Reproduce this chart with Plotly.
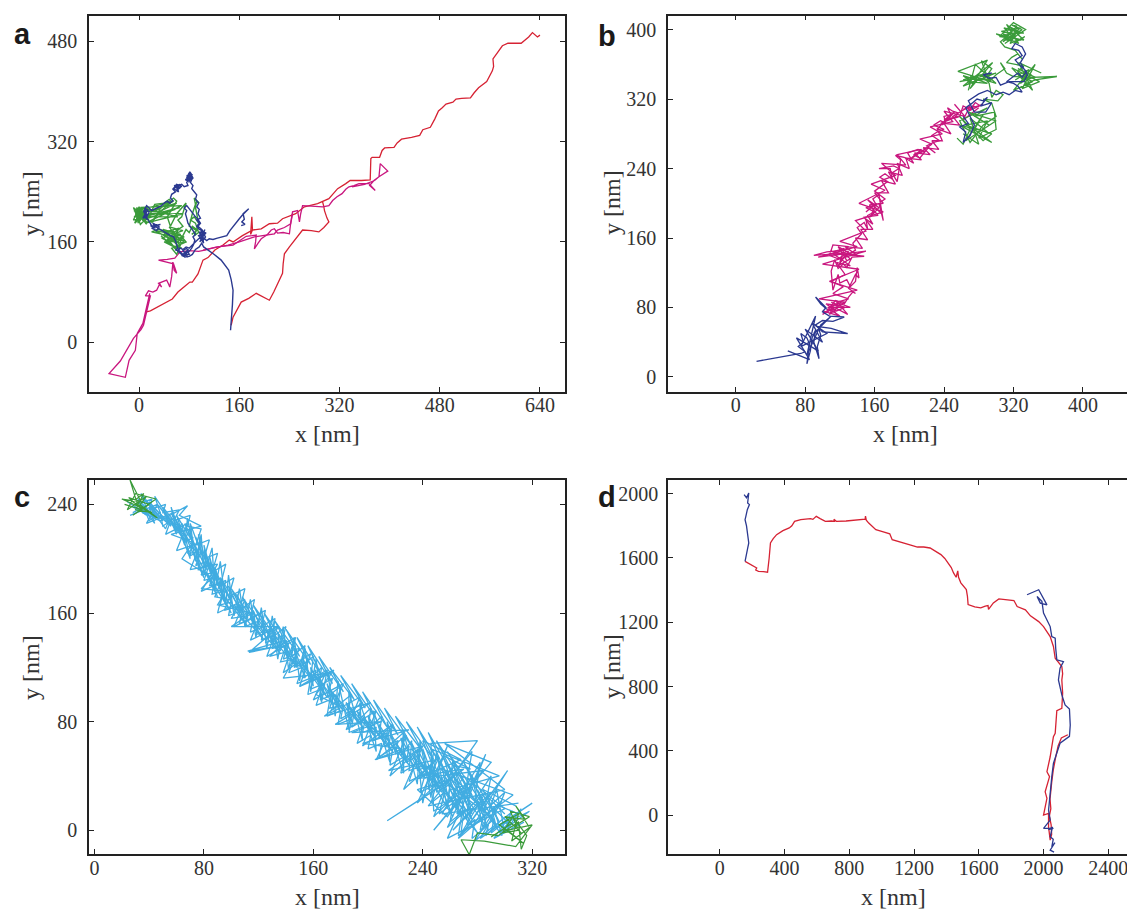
import plotly.graph_objects as go

# ---------------- data (nm) ----------------
# Panel a
a_red_1 = [(640,490),(636,487),(628,494),(622,487),(610,477),(589,477),(580,473),(572,462),(565,452),(566,440),(564,433),(555,416),(548,410),(542,406),(535,398),(529,390),(515,389),(506,388),(501,383),(490,380),(484,374),(478,369),(472,356),(465,343),(453,339),(448,330),(435,327),(419,324),(412,318),(407,311),(392,310),(388,306),(384,295),(372,295),(370,293),(369,259),(355,258),(337,258),(330,253),(317,245),(303,229),(293,224),(285,221),(264,216),(256,210),(250,205),(229,197),(221,190),(208,189),(195,181),(181,179),(178,172),(180,200),(181,179),(165,170),(150,160),(144,163),(134,155),(121,147),(110,135),(102,131),(94,109),(85,96),(81,96),(74,90),(62,80),(53,69),(40,62),(24,53),(18,50),(10,48)]
a_red_2 = [(147,27),(150,40),(163,64),(175,70),(187,78),(198,72),(208,67),(215,80),(222,95),(229,110),(230,125),(232,141),(240,152),(250,165),(261,179),(275,178),(287,176),(295,183),(303,192),(300,198),(297,205),(296,210),(295,216),(293,224)]
a_mag_1 = [(17,78),(13,62),(9,46),(6,30),(-3,14),(-4,0),(-6,-13),(-16,-29),(-22,-56),(-48,-50),(-30,-30),(-9,6),(3,20),(7,27),(10,40),(12,48),(15,60),(18,74),(10,74),(15,82),(22,80),(28,83),(33,93),(36,88),(31,94),(44,99),(47,93),(49,88),(52,105),(54,128),(56,115),(60,110),(55,125),(31,131),(45,132),(57,134),(62,140),(65,144),(80,146),(95,145),(105,147),(120,151),(142,155),(160,160),(184,168),(200,170),(216,173),(221,179),(232,183),(242,189),(245,205),(243,195)]
a_mag_2 = [(102,147),(125,152),(150,155),(160,162),(171,169),(180,170),(187,171),(186,160),(184,149),(190,158),(195,165),(205,172),(211,179),(216,181),(219,176),(221,174),(230,175),(240,173),(242,190),(245,208),(253,210),(256,192),(258,205),(261,218),(275,217),(293,216),(303,218),(309,226),(316,232),(324,237),(330,244),(335,248),(343,250),(351,253),(360,253),(367,253),(377,242),(368,250),(375,258),(383,264),(397,273),(385,285),(383,264),(376,258),(360,252),(340,248)]
a_blue = [(146,19),(147,30),(148,40),(149,60),(150,83),(147,100),(143,115),(137,124),(131,131),(120,140),(110,147),(103,152),(100,158),(96,152),(90,148),(85,140),(80,137),(73,136),(68,140),(62,145),(65,150),(70,148),(75,152),(80,150),(85,155),(90,160),(95,165),(100,168),(98,175),(102,178),(96,180),(92,185),(96,190),(92,195),(98,198),(94,205),(96,212),(92,216),(95,222),(90,228),(92,235),(88,240),(84,245),(86,250),(82,255),(85,262),(81,266),(83,270),(79,268),(80,260),(76,255),(78,250),(72,248),(68,252),(62,250),(57,248),(54,244),(58,240),(52,236),(50,230),(54,226),(49,222),(45,225),(40,222),(36,218),(30,215),(26,212),(20,210),(16,214),(12,218),(10,214),(8,208),(12,204),(8,200),(14,196),(17,190),(20,186),(25,185),(30,182),(35,178),(40,175),(46,172),(50,170),(55,168),(58,162),(60,155),(62,150),(58,147),(64,146),(68,142),(72,138),(76,142),(80,145),(84,150),(87,156),(89,163),(86,168),(90,172),(86,178),(82,182),(78,190),(76,198),(74,205),(76,210),(72,214),(76,218),(80,212),(84,208),(90,200),(94,196),(98,190),(94,185),(100,180),(104,175),(98,170),(104,165),(108,162),(112,165),(118,164),(125,166),(132,168),(140,170),(145,178),(150,185),(155,192),(160,197),(165,203),(170,208),(175,213),(171,210),(166,205),(168,196),(164,192),(169,188),(163,186)]
a_blue_blob_1 = [(78,262),(82,258),(76,266),(84,264),(80,270),(77,258),(85,268),(79,255),(83,261),(76,262),(81,272),(86,262),(80,257),(74,259),(82,266)]
a_blue_blob_2 = [(58,246),(64,250),(60,242),(66,247),(56,250),(62,244),(68,249),(59,252),(63,240),(55,245),(65,252),(61,247)]
a_blue_blob_3 = [(98,165),(104,172),(96,176),(102,162),(106,168),(99,180),(103,158),(95,170),(107,175),(100,166),(97,160),(105,180)]
a_blue_blob_4 = [(72,140),(78,136),(70,146),(76,150),(80,140),(68,138),(74,144),(79,148),(71,136)]
a_blue_blob_5 = [(8,205),(14,212),(6,198),(12,200),(16,208),(9,214),(13,196),(7,210)]
a_blue_blob_6 = [(18,186),(26,182),(22,190),(32,184),(28,178),(20,182),(34,188),(24,186)]
a_green = [(-5,205),(5,214),(-8,210),(10,198),(-6,200),(15,212),(0,192),(-9,215),(12,188),(2,208),(-4,196),(18,205),(25,220),(40,222),(48,228),(52,224),(30,205),(20,190),(35,215),(55,230),(60,225),(45,200),(50,185),(60,205),(75,222),(68,200),(62,195),(70,185),(55,175),(30,180),(20,176),(40,172),(55,168),(70,165),(40,160),(60,150),(72,162),(45,165),(62,145),(35,170),(50,155),(68,150),(58,158),(48,170),(65,172),(75,160),(52,150),(60,140),(66,155),(42,175),(25,178),(50,165),(62,160),(70,170),(75,180),(80,175),(85,185),(92,180),(88,170),(95,175),(90,190),(82,195),(88,200),(95,190),(90,215),(92,225),(96,222),(88,230),(90,220),(85,205),(80,185),(92,178),(84,172)]
a_green_blob_1 = [(-8,200),(4,210),(-2,190),(12,215),(-6,212),(8,192),(0,216),(-9,195),(14,200),(2,188),(-5,208),(10,210),(-3,200),(16,195),(0,205),(-7,190),(9,205),(5,196),(-4,215),(13,190)]
a_green_blob_2 = [(40,170),(62,160),(38,180),(66,172),(45,158),(72,168),(42,176),(64,182),(50,160),(36,166),(70,178),(48,184),(58,170),(44,162),(68,158),(54,178),(60,164),(40,174)]
a_green_fan = [(0,205),(60,222),(5,195),(58,212),(-5,200),(62,200),(2,215),(68,218),(10,190),(70,205),(-2,210),(55,225),(8,200),(65,215)]

# Panel b
b_blue_1 = [(24,18),(45,22),(61,25),(75,27),(80,29),(72,35),(78,40),(75,50),(82,45),(85,38),(82,15),(86,30),(88,45),(92,54),(90,40),(96,21),(94,35),(98,48),(95,58),(110,56),(129,50),(100,52),(92,60),(100,65),(112,64),(125,69),(108,70),(100,75),(104,80),(92,92),(98,84),(105,78)]
b_blue_blob = [(60,30),(85,20),(70,45),(95,30),(80,55),(100,40),(88,62),(105,50),(75,35),(92,70),(82,25),(98,60),(110,70),(90,50)]
b_mag = [(105,78),(115,74),(110,82),(122,76),(129,72),(118,85),(108,80),(115,88),(125,84),(130,92),(135,98),(138,96),(130,102),(134,110),(138,118),(142,114),(140,126),(138,110),(132,104),(128,112),(120,108),(118,118),(112,100),(110,122),(114,135),(118,125),(124,130),(128,126),(134,138),(148,139),(120,142),(90,140),(105,144),(125,146),(130,150),(112,152),(108,140),(118,136),(126,141),(132,136),(118,128),(125,138),(138,146),(135,154),(140,160),(145,165),(140,172),(148,178),(152,170),(150,182),(158,176),(152,186),(160,190),(150,195),(162,198),(158,205),(165,210),(168,190),(170,180),(165,200),(172,205),(160,214),(168,220),(175,225),(166,230),(172,234),(180,228),(178,240),(165,240),(182,243),(188,240),(180,235),(186,225),(190,250),(184,255),(194,253),(205,246),(198,258),(210,262),(218,260),(205,256),(212,252),(222,264),(230,258),(220,266),(228,270),(235,272),(226,278),(232,282),(240,285),(228,290),(236,295),(242,292),(240,300),(248,302),(244,310),(250,306),(256,304),(252,298),(258,300),(262,312),(270,308),(276,316),(282,312)]
b_mag_2 = [(280,310),(262,296),(270,312),(250,300),(258,290),(240,292),(248,280),(232,286),(238,272),(226,272),(234,262),(216,264),(224,256),(206,258),(214,250),(196,252),(200,240),(186,246),(192,232),(176,236),(184,222),(168,226),(176,212),(160,212),(170,200),(154,198),(164,186),(148,184),(158,170),(144,170),(152,158),(138,160),(146,148),(126,150),(140,140),(112,142),(132,128),(116,132),(126,118),(110,110),(124,104),(112,96),(130,90),(116,86),(132,80),(106,80),(120,70),(100,76)]
b_mag_3 = [(100,72),(126,86),(96,90),(140,100),(108,110),(142,124),(100,130),(150,145),(95,138),(140,150),(120,156),(150,168),(138,180),(170,190),(142,200),(172,215),(156,222),(184,232),(168,246),(196,244),(186,256),(214,262),(200,250),(226,268),(212,274),(238,280),(224,288),(250,294),(240,306),(264,300),(252,314)]
b_mag_blob_1 = [(102,74),(112,80),(108,72),(120,82),(104,84),(116,76),(126,80),(110,86)]
b_mag_blob_2 = [(115,140),(130,145),(120,132),(125,148),(112,144),(135,140),(118,150),(128,134)]
b_mag_blob_3 = [(150,190),(162,200),(155,184),(165,195),(152,204),(168,188),(158,198)]
b_mag_blob_4 = [(232,285),(245,300),(238,290),(252,305),(240,296),(256,300),(236,292)]
b_mag_blob_5 = [(262,308),(275,312),(268,306),(285,314),(272,310)]
b_blue_2 = [(262,300),(268,292),(258,288),(265,282),(262,270),(270,278),(275,290),(270,300),(265,310),(272,315),(278,320),(285,318),(290,322),(282,312),(295,316),(288,305),(275,305),(268,318),(280,326),(290,330),(300,325),(308,328),(315,325),(322,330),(330,328),(325,335),(320,338),(312,340),(318,345),(325,350),(330,345),(335,352),(328,358),(322,365),(330,370),(326,376),(318,378),(322,384),(330,380),(334,372),(328,362),(336,348),(332,340),(315,340),(305,336),(300,345),(292,344),(285,348),(295,350)]
b_green = [(255,275),(262,268),(270,285),(258,300),(285,272),(295,280),(265,290),(290,295),(280,275),(300,285),(298,305),(275,300),(290,310),(258,295),(270,270),(285,290),(300,300),(295,315),(285,320),(302,318),(308,325),(300,330),(295,322),(292,338),(283,348),(262,342),(275,346),(268,338),(288,345),(295,355),(283,364),(292,340),(300,348),(310,355),(305,362),(312,350),(320,346),(340,345),(370,346),(345,342),(335,338),(330,345),(325,352),(332,358),(320,360),(312,362),(318,368),(325,372),(330,366),(322,376),(310,380),(305,386),(312,392),(318,398),(324,404),(318,405),(330,400),(322,395),(315,388),(308,395),(328,388),(333,392),(320,384)]
b_green_blob_1 = [(310,392),(320,400),(308,386),(326,398),(314,404),(330,390),(316,384),(322,394),(306,398),(328,402),(312,388),(324,386),(318,396),(332,396),(309,402),(320,390),(300,395),(326,384),(312,406),(332,388),(304,392),(320,408),(334,400),(310,384)]
b_green_blob_2 = [(265,342),(275,337),(262,347),(285,340),(270,346),(290,338),(268,340),(280,348),(295,342),(273,343),(258,340),(300,350),(262,335),(296,362),(270,332),(290,365),(256,352),(300,338),(276,360),(268,330)]
b_green_blob_3 = [(322,342),(335,350),(328,338),(340,348),(325,355),(345,345),(332,342),(338,354),(326,348),(342,340),(320,330),(345,360),(330,332),(350,340),(318,356),(342,330),(326,362),(352,350)]
b_green_blob_4 = [(262,280),(280,268),(270,298),(290,282),(258,290),(295,270),(275,285),(285,302),(265,272),(300,295),(268,305),(292,290)]

# Panel c
c_cyan_1 = [(30,238),(38,232),(34,240),(45,230),(42,236),(52,222),(55,230),(60,218),(58,226),(66,214),(70,222),(72,208),(68,204),(78,205),(74,195),(82,198),(78,188),(88,190),(84,180),(92,182),(88,172),(98,170),(95,162),(105,165),(100,156),(112,158),(110,150),(120,154),(118,144),(128,148),(125,138),(135,142),(133,132),(142,138),(138,126),(148,130),(146,120),(155,124),(152,112),(162,118),(158,104),(168,108),(165,96),(175,100),(172,90),(182,92),(180,82),(190,88),(188,76),(198,82),(196,72),(206,76),(204,66),(214,72),(212,62),(222,66),(220,56),(230,62),(228,50),(238,56),(236,44),(246,48),(244,36),(252,42),(250,28),(260,34),(258,20),(268,24),(265,12),(276,16),(272,4),(284,10),(282,0),(292,8),(290,-2),(300,6),(306,2)]
c_cyan_2 = [(310,12),(296,18),(300,28),(285,14),(290,40),(278,22),(282,50),(270,30),(262,48),(275,45),(255,55),(268,10),(250,40),(258,62),(244,30),(248,58),(240,20),(236,60),(242,48),(230,44),(232,66),(224,55),(226,72),(215,62),(218,78),(208,68),(210,84),(200,74),(202,90),(192,80),(196,94),(185,86),(188,100),(178,92),(180,106),(170,98),(174,112),(164,106),(166,120),(158,112),(160,128),(150,120),(154,136),(144,128),(147,142),(136,136),(140,150),(130,142),(132,156),(122,150),(125,162),(114,156),(117,170),(106,162),(110,178),(98,172),(102,186),(92,180),(96,196),(86,190),(90,204),(80,200),(84,214),(74,210),(78,222),(68,224),(70,232),(58,228),(62,236),(50,234),(52,240),(40,236),(42,244),(30,240)]
c_cyan_3 = [(35,234),(48,228),(68,239),(62,232),(78,224),(56,218),(72,212),(64,200),(86,186),(78,178),(96,176),(90,166),(115,160),(100,150),(135,150),(113,131),(137,136),(112,132),(140,140),(128,128),(150,134),(138,112),(174,116),(150,106),(175,118),(162,100),(178,92),(168,84),(202,94),(176,78),(210,80),(188,72),(230,74),(196,64),(225,60),(205,52),(240,62),(215,44),(250,52),(238,40),(270,45),(246,28),(214,7),(262,38),(236,30),(258,10),(272,30),(248,14),(246,64),(280,66),(262,40),(280,20),(262,0),(290,28),(268,-4),(302,44),(276,2),(298,22),(282,-6),(320,20),(290,0),(318,14),(296,-2),(305,8)]
c_cyan_4 = [(28,234),(36,238),(40,228),(48,234),(50,224),(58,230),(60,220),(64,226),(66,212),(72,216),(70,202),(76,206),(76,192),(84,196),(80,184),(88,186),(86,174),(94,176),(92,166),(100,168),(98,158),(108,162),(106,152),(116,156),(114,146),(124,150),(122,140),(132,144),(130,134),(140,136),(136,124),(146,126),(142,116),(152,120),(148,108),(158,112),(156,100),(166,104),(162,92),(172,96),(170,84),(180,88),(178,78),(188,82),(186,72),(196,76),(192,64),(202,70),(200,60),(210,64),(208,54),(218,60),(216,48),(226,54),(224,42),(234,48),(230,36),(242,42),(238,28),(250,34),(246,20),(256,28),(252,12),(262,20),(260,6),(270,14),(268,-2),(278,8),(276,-6),(288,4),(286,-4),(296,6)]
c_cyan_5 = [(300,12),(288,24),(294,2),(280,30),(286,8),(270,36),(276,12),(262,42),(268,20),(254,48),(258,26),(246,54),(250,32),(240,60),(244,40),(232,64),(236,46),(224,68),(228,52),(216,72),(220,58),(208,78),(212,64),(200,84),(204,70),(192,88),(196,76),(184,94),(188,80),(176,100),(180,86),(170,108),(174,92),(164,114),(168,100),(158,120),(160,106),(152,128),(154,112),(146,134),(148,120),(140,140),(142,126),(134,146),(136,132),(128,152),(130,138),(122,158),(124,144),(116,162),(118,150),(110,168),(112,156),(104,174),(106,162),(98,180),(100,168),(92,186),(94,174),(88,194),(90,180),(84,202),(86,188),(80,210),(82,196),(76,218),(78,204),(70,226),(72,212),(60,232),(64,220),(50,238),(54,226),(40,242),(44,230),(32,244),(36,234)]
c_cyan_6 = [(32,242),(44,226),(40,238),(56,224),(50,236),(64,216),(60,228),(70,200),(66,218),(80,186),(74,204),(90,172),(82,190),(100,160),(92,176),(112,150),(102,166),(124,140),(114,156),(136,130),(126,146),(148,120),(138,136),(160,110),(150,126),(170,98),(160,116),(182,88),(172,104),(194,78),(184,94),(206,68),(196,84),(218,58),(208,74),(230,48),(220,64),(242,38),(232,56),(254,28),(244,48),(266,16),(256,40),(276,8),(268,30),(288,0),(280,22),(298,-4),(292,16),(304,4)]
c_cyan_7 = [(308,18),(284,30),(296,6),(270,50),(286,16),(258,58),(276,26),(250,66),(266,34),(244,72),(256,44),(236,76),(248,52),(228,80),(240,58),(220,84),(232,62),(212,90),(222,70),(204,96),(214,76),(196,102),(206,82),(188,108),(198,90),(180,114),(190,96),(172,120),(182,102),(164,128),(174,108),(156,136),(166,114),(148,142),(158,122),(140,148),(150,128),(132,154),(142,134),(124,160),(134,140),(116,166),(126,146),(108,172),(118,152),(100,178),(110,158),(92,186),(102,164),(86,196),(94,172),(80,206),(88,182),(74,216),(82,192),(66,226),(76,202),(56,234),(70,212),(46,240),(60,222),(36,244),(48,230),(28,238)]
c_cyan_8 = [(26,232),(46,240),(38,226),(58,234),(52,218),(68,226),(60,206),(78,212),(70,192),(90,196),(78,176),(96,184),(90,160),(110,170),(102,150),(122,160),(114,140),(134,150),(126,128),(146,140),(138,116),(158,130),(150,106),(170,118),(160,96),(182,108),(172,86),(194,98),(184,74),(206,88),(196,62),(218,78),(206,52),(228,70),(216,40),(240,62),(226,30),(252,54),(236,20),(262,46),(248,10),(274,36),(258,2),(286,28),(266,-6),(296,20),(278,-8),(306,14),(292,-6),(314,6)]
c_cyan_9 = [(312,16),(300,-2),(294,30),(284,2),(276,40),(272,8),(262,52),(258,16),(250,58),(246,24),(238,66),(236,34),(226,72),(226,42),(214,80),(216,50),(204,88),(206,58),(194,94),(196,66),(186,102),(186,74),(178,110),(176,84),(170,118),(166,94),(162,126),(158,102),(154,134),(150,110),(146,142),(142,118),(138,150),(134,126),(130,158),(126,134),(122,164),(118,142),(114,170),(110,150),(106,178),(102,158),(98,188),(96,166),(92,198),(88,176),(86,208),(80,188),(78,218),(74,198),(68,230),(66,210),(56,238),(60,222),(44,246),(50,228),(34,248),(40,232),(24,242)]
c_cyan_10 = [(232,60),(262,10),(240,66),(268,52),(236,38),(284,44),(248,0),(290,50),(256,64),(300,30),(244,18),(276,58),(266,-4),(306,26),(252,46),(292,8),(238,50),(280,-2),(260,30),(296,40),(246,60),(272,20),(286,56),(258,-6),(300,16),(270,40),(254,12),(310,20)]
c_green_1 = [(22,240),(35,236),(25,245),(40,240),(28,232),(45,244),(30,248),(24,236),(38,246),(32,238),(26,258),(34,242),(20,244),(42,234),(30,236),(36,248),(28,242),(46,230),(33,240)]
c_green_2 = [(290,-5),(305,5),(312,-2),(300,10),(315,8),(308,18),(318,2),(305,-8),(310,12),(296,4),(314,-10),(302,0),(320,4),(308,-12),(285,-8),(268,-7),(274,-18),(280,-2),(295,-4),(310,6),(312,-14),(316,-4),(306,10),(298,-2),(310,0),(304,14),(318,10),(307,3)]

# Panel d
d_blue_1 = [(150,1994),(165,1975),(179,2004),(172,1942),(183,1932),(170,1900),(161,1859),(156,1838),(165,1800),(172,1755),(179,1693),(172,1660),(165,1631),(156,1579)]
d_red = [(156,1579),(190,1560),(228,1538),(222,1525),(239,1517),(270,1515),(295,1511),(305,1600),(313,1693),(330,1720),(351,1745),(390,1770),(429,1787),(445,1800),(462,1828),(500,1838),(540,1842),(560,1845),(575,1840),(596,1859),(620,1845),(652,1828),(690,1830),(708,1828),(705,1840),(720,1828),(780,1830),(850,1838),(898,1842),(900,1860),(905,1835),(920,1817),(940,1800),(964,1776),(1000,1765),(1042,1755),(1050,1750),(1065,1714),(1100,1705),(1143,1693),(1180,1680),(1221,1668),(1260,1668),(1299,1662),(1330,1645),(1366,1621),(1390,1597),(1411,1569),(1430,1540),(1444,1507),(1460,1480),(1470,1520),(1475,1480),(1489,1445),(1510,1420),(1523,1403),(1530,1360),(1534,1310),(1575,1295),(1612,1289),(1640,1300),(1657,1304),(1660,1280),(1690,1320),(1724,1345),(1776,1340),(1817,1335),(1837,1298),(1888,1277),(1919,1240),(1970,1204),(2000,1173),(2041,1111),(2061,1049),(2072,976),(2113,924),(2118,880),(2113,841),(2118,760),(2113,665),(2082,650),(2072,509),(2061,488),(2041,363),(2021,270),(2037,239),(2010,145),(2021,104),(2000,0),(2031,10),(2031,-73),(2041,-156),(2050,-120),(2047,-60),(2036,-6),(2045,40),(2040,100),(2050,200),(2060,280),(2075,360),(2090,430),(2110,480),(2150,500)]
d_blue_2 = [(1898,1371),(1970,1402),(2021,1308),(1980,1319),(1960,1360),(1990,1330),(2000,1257),(2041,1173),(2051,1111),(2072,1101),(2075,1040),(2082,966),(2123,955),(2102,914),(2092,841),(2113,748),(2133,685),(2160,660),(2165,560),(2160,490),(2102,447),(2082,384),(2061,322),(2051,239),(2041,135),(2031,31),(2041,-31),(2000,-83),(2061,-83),(2030,-90),(2055,-75),(2041,-135),(2060,-150),(2051,-197),(2070,-172),(2041,-218),(2065,-230)]

# tick labels
a_xticks = [0, 160, 320, 480, 640]
a_yticks = [0, 160, 320, 480]
b_xticks = [0, 80, 160, 240, 320, 400]
b_yticks = [0, 80, 160, 240, 320, 400]
c_xticks = [0, 80, 160, 240, 320]
c_yticks = [0, 80, 160, 240]
d_xticks = [0, 400, 800, 1200, 1600, 2000, 2400]
d_yticks = [0, 400, 800, 1200, 1600, 2000]
panel_letters = ["a", "b", "c", "d"]

# ---------------- styling ----------------
RED = "#d62233"
MAG = "#c9177f"
NAVY = "#2b3990"
GREEN = "#3a9b3a"
CYAN = "#41ace1"

# page has an 8px body margin; figure sized so page = 1135 x 911
OX, OY = 8, 8
W, H = 1135 - OX, 911 - OY


def px_x(px):
    return (px - OX) / W


def px_y(py):
    return 1 - (py - OY) / H


fig = go.Figure()


def add(pieces, color, width, k):
    xs, ys = [], []
    for piece in pieces:
        for (x, y) in piece:
            xs.append(x)
            ys.append(y)
        xs.append(None)
        ys.append(None)
    sfx = "" if k == 1 else str(k)
    fig.add_trace(go.Scatter(x=xs, y=ys, mode="lines",
                             line=dict(color=color, width=width),
                             xaxis="x" + sfx, yaxis="y" + sfx,
                             hoverinfo="skip", showlegend=False))


add([a_red_1, a_red_2], RED, 1.3, 1)
add([a_mag_1, a_mag_2], MAG, 1.3, 1)
add([a_green, a_green_blob_1, a_green_blob_2, a_green_fan], GREEN, 1.4, 1)
add([a_blue, a_blue_blob_1, a_blue_blob_2, a_blue_blob_3, a_blue_blob_4, a_blue_blob_5, a_blue_blob_6], NAVY, 1.4, 1)

add([b_mag, b_mag_2, b_mag_3, b_mag_blob_1, b_mag_blob_2, b_mag_blob_3, b_mag_blob_4, b_mag_blob_5], MAG, 1.3, 2)
add([b_green, b_green_blob_1, b_green_blob_2, b_green_blob_3, b_green_blob_4], GREEN, 1.3, 2)
add([b_blue_1, b_blue_blob, b_blue_2], NAVY, 1.3, 2)

add([c_cyan_1, c_cyan_2, c_cyan_3, c_cyan_4, c_cyan_5, c_cyan_6, c_cyan_7, c_cyan_8, c_cyan_9, c_cyan_10], CYAN, 1.3, 3)
add([c_green_1, c_green_2], GREEN, 1.2, 3)

add([d_red], RED, 1.3, 4)
add([d_blue_1, d_blue_2], NAVY, 1.3, 4)

FRAME = "#222222"
tickfont = dict(family="Liberation Serif, Times New Roman, serif", size=20, color="#333333")


def axis(domain, rng, tickvals, anchor, mirror, standoff):
    return dict(domain=domain, range=rng, tickvals=tickvals,
                ticktext=[str(t) for t in tickvals],
                showline=True, linecolor=FRAME, linewidth=1.5, mirror=mirror,
                ticks="inside", ticklen=5, tickwidth=1, tickcolor=FRAME,
                showgrid=False, zeroline=False, tickfont=tickfont,
                anchor=anchor, ticklabelstandoff=standoff, fixedrange=True)


xa = [px_x(89), px_x(565)]
xb = [px_x(668), 1.0]
ya = [px_y(391.7), px_y(15.7)]
yc = [px_y(854), px_y(480)]

fig.update_layout(
    width=W, height=H, margin=dict(l=0, r=0, t=0, b=0),
    paper_bgcolor="white", plot_bgcolor="white",
    xaxis=axis(xa, [-80, 680], a_xticks, "y", "ticks", -5),
    yaxis=axis(ya, [-79, 521], a_yticks, "x", "ticks", 6),
    xaxis2=axis(xb, [-78, 460], b_xticks, "y2", "ticks", -5),
    yaxis2=axis(ya, [-17, 416], b_yticks, "x2", False, 6),
    xaxis3=axis(xa, [-4, 344], c_xticks, "y3", "ticks", -5),
    yaxis3=axis(yc, [-17.5, 258], c_yticks, "x3", "ticks", 6),
    xaxis4=axis(xb, [-320, 2565], d_xticks, "y4", "ticks", -5),
    yaxis4=axis(yc, [-242, 2085], d_yticks, "x4", False, 4),
)

labfont = dict(family="Liberation Serif, Times New Roman, serif", size=24, color="#333333")
letfont = dict(family="Liberation Sans, Arial, sans-serif", size=29, color="#1a1a1a")
ann = []
letter_pos = [(12, 34), (596, 36), (12, 497), (596, 497)]
for letter, (px, py) in zip(panel_letters, letter_pos):
    ann.append(dict(text="<b>%s</b>" % letter, x=px_x(px), y=px_y(py), xref="paper", yref="paper",
                    xanchor="left", yanchor="middle", showarrow=False, font=letfont))
xlab_pos = [(327, 434), (905, 434), (327, 897), (893, 897)]
for (px, py) in xlab_pos:
    ann.append(dict(text="x [nm]", x=px_x(px), y=px_y(py), xref="paper", yref="paper",
                    xanchor="center", yanchor="middle", showarrow=False, font=labfont))
ylab_pos = [(31, 203), (612, 203), (31, 667), (612, 667)]
for (px, py) in ylab_pos:
    ann.append(dict(text="y [nm]", x=px_x(px), y=px_y(py), xref="paper", yref="paper",
                    xanchor="center", yanchor="middle", showarrow=False, font=labfont,
                    textangle=-90))
fig.update_layout(annotations=ann)

fig.write_html("out.html")
